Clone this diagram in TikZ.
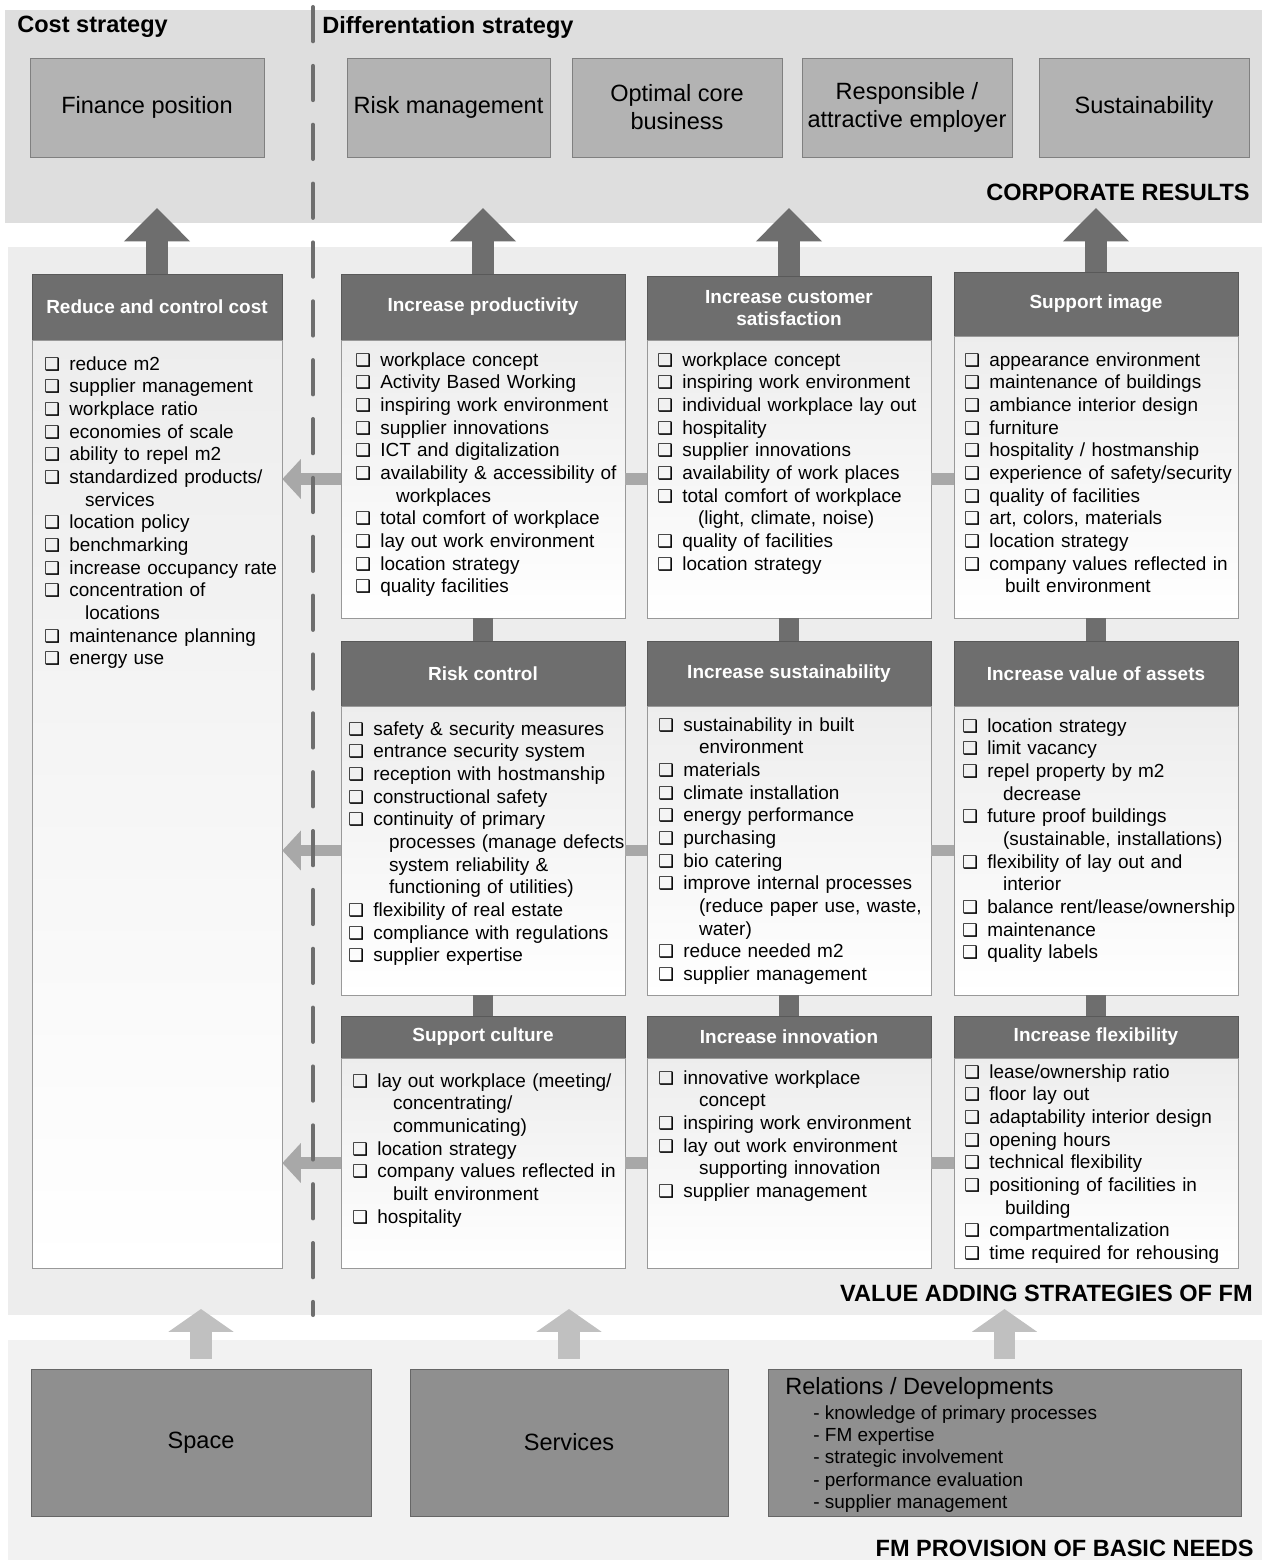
\documentclass[tikz,border=0pt]{standalone}
\usepackage{fontspec}
\setmainfont{Liberation Sans}
\newfontfamily\chkfont{DejaVu Sans}
\usetikzlibrary{arrows.meta}
\definecolor{bandtop}{HTML}{DEDEDE}
\definecolor{bandmid}{HTML}{EDEDED}
\definecolor{bandlow}{HTML}{F2F2F2}
\definecolor{resfill}{HTML}{B3B3B3}
\definecolor{headfill}{HTML}{6E6E6E}
\definecolor{needfill}{HTML}{8F8F8F}
\definecolor{barlight}{HTML}{A8A8A8}
\definecolor{arrlight}{HTML}{C0C0C0}
\setlength{\parskip}{0pt}
\newcommand{\fsbig}{\fontsize{13.4}{15.9}\selectfont}
\newcommand{\fssmall}{\fontsize{10.8}{12.9}\selectfont}
\newcommand{\chk}{{\chkfont\bfseries\fontsize{10}{12.9}\selectfont ❑}}
\newcommand{\itm}[1]{\par\noindent\makebox[14.2pt][l]{\chk}#1}
\newcommand{\cnt}[1]{\par\noindent\hspace*{23.2pt}#1}
\begin{document}
\begin{tikzpicture}[x=0.02cm, y=-0.02cm,
  result/.style={draw=black!50, fill=resfill, font=\fsbig, align=center, inner sep=0, minimum height=1.98cm, minimum width=4.2cm},
  head/.style={draw=black!65, fill=headfill, text=white, font=\fssmall\bfseries, align=center, inner sep=0, minimum width=5.68cm},
  body/.style={draw=black!40, top color=black!7, bottom color=white, inner sep=0, minimum width=5.68cm},
  list/.style={anchor=north west, inner sep=0, text width=6cm, align=left, font=\fssmall},
  need/.style={draw=black!60, fill=needfill, font=\fsbig, inner sep=0, minimum height=2.94cm},
  title/.style={font=\fsbig\bfseries, inner sep=0},
  uparrow/.style={draw=headfill, line width=12.5pt, -{Triangle[width=36.5pt, length=19pt]}},
  needarrow/.style={draw=arrlight, line width=12.5pt, -{Triangle[width=36.5pt, length=13pt]}},
  sidearrow/.style={draw=barlight, line width=6.8pt, -{Triangle[width=22pt, length=10.5pt]}},
  colbar/.style={draw=barlight, line width=6.8pt},
  rowbar/.style={draw=headfill, line width=11.3pt},
  divider/.style={draw=headfill, line width=2.3pt, line cap=round, dash pattern=on 19.5pt off 14pt}]
\useasboundingbox (0,0) rectangle (1265,1560);
\fill[white] (0,0) rectangle (1265,1560);
% bands
\fill[bandtop] (5,10) rectangle (1262,223);
\fill[bandmid] (8,247) rectangle (1262,1315);
\fill[bandlow] (8,1340) rectangle (1262,1560);
\node[title, anchor=west] (coststr) at (17,27) {Cost strategy};
\node[title, anchor=west] (diffstr) at (322,27) {Differentation strategy};
\node[title, anchor=east] (corpres) at (1250,192) {CORPORATE RESULTS};
\node[title, anchor=east] (valadd) at (1253,1293) {VALUE ADDING STRATEGIES OF FM};
\node[title, anchor=east] (basic) at (1254,1548) {FM PROVISION OF BASIC NEEDS};
% corporate results
\node[result, minimum width=4.68cm] (fin) at (147,107.5) {Finance position};
\node[result, minimum width=4.06cm] (riskm) at (448.5,107.5) {Risk management};
\node[result] (core) at (677,107.5) {Optimal core\\business};
\node[result] (empl) at (907,107.5) {Responsible /\\attractive employer};
\node[result] (sust) at (1144,107.5) {Sustainability};
% strategy headers
\node[head, minimum width=5cm, minimum height=1.32cm] (costh) at (157,307) {Reduce and control cost};
\node[head, minimum height=1.32cm] (prodh) at (483,307) {Increase productivity};
\node[head, minimum height=1.28cm] (custh) at (789,308) {Increase customer\\satisfaction};
\node[head, minimum height=1.28cm] (imgh) at (1096,304) {Support image};
\node[head, minimum height=1.3cm] (riskh) at (483,673.5) {Risk control};
\node[head, minimum height=1.3cm] (susth) at (789,673.5) {Increase sustainability};
\node[head, minimum height=1.3cm] (valh) at (1096,673.5) {Increase value of assets};
\node[head, minimum height=0.84cm] (culth) at (483,1037) {Support culture};
\node[head, minimum height=0.84cm] (innh) at (789,1037) {Increase innovation};
\node[head, minimum height=0.84cm] (flexh) at (1096,1037) {Increase flexibility};
% strategy bodies
\node[body, minimum width=5cm, minimum height=18.56cm] (costb) at (157,804) {};
\node[body, minimum height=5.56cm] (prodb) at (483,479) {};
\node[body, minimum height=5.56cm] (custb) at (789,479) {};
\node[body, minimum height=5.64cm] (imgb) at (1096,477) {};
\node[body, minimum height=5.78cm] (riskb) at (483,850.5) {};
\node[body, minimum height=5.78cm] (sustb) at (789,850.5) {};
\node[body, minimum height=5.78cm] (valb) at (1096,850.5) {};
\node[body, minimum height=4.2cm] (cultb) at (483,1163) {};
\node[body, minimum height=4.2cm] (innb) at (789,1163) {};
\node[body, minimum height=4.2cm] (flexb) at (1096,1163) {};
% lists
\node[list] (costl) at (44,347) {\itm{reduce m2}\itm{supplier management}\itm{workplace ratio}\itm{economies of scale}\itm{ability to repel m2}\itm{standardized products/}\cnt{services}\itm{location policy}\itm{benchmarking}\itm{increase occupancy rate}\itm{concentration of}\cnt{locations}\itm{maintenance planning}\itm{energy use}};
\node[list] (prodl) at (355,343) {\itm{workplace concept}\itm{Activity Based Working}\itm{inspiring work environment}\itm{supplier innovations}\itm{ICT and digitalization}\itm{availability \& accessibility of}\cnt{workplaces}\itm{total comfort of workplace}\itm{lay out work environment}\itm{location strategy}\itm{quality facilities}};
\node[list] (custl) at (657,343) {\itm{workplace concept}\itm{inspiring work environment}\itm{individual workplace lay out}\itm{hospitality}\itm{supplier innovations}\itm{availability of work places}\itm{total comfort of workplace}\cnt{(light, climate, noise)}\itm{quality of facilities}\itm{location strategy}};
\node[list] (imgl) at (964,343) {\itm{appearance environment}\itm{maintenance of buildings}\itm{ambiance interior design}\itm{furniture}\itm{hospitality / hostmanship}\itm{experience of safety/security}\itm{quality of facilities}\itm{art, colors, materials}\itm{location strategy}\itm{company values reflected in}\cnt{built environment}};
\node[list] (riskl) at (348,712) {\itm{safety \& security measures}\itm{entrance security system}\itm{reception with hostmanship}\itm{constructional safety}\itm{continuity of primary}\cnt{processes (manage defects}\cnt{system reliability \&}\cnt{functioning of utilities)}\itm{flexibility of real estate}\itm{compliance with regulations}\itm{supplier expertise}};
\node[list] (sustl) at (658,708) {\itm{sustainability in built}\cnt{environment}\itm{materials}\itm{climate installation}\itm{energy performance}\itm{purchasing}\itm{bio catering}\itm{improve internal processes}\cnt{(reduce paper use, waste,}\cnt{water)}\itm{reduce needed m2}\itm{supplier management}};
\node[list] (vall) at (962,709) {\itm{location strategy}\itm{limit vacancy}\itm{repel property by m2}\cnt{decrease}\itm{future proof buildings}\cnt{(sustainable, installations)}\itm{flexibility of lay out and}\cnt{interior}\itm{balance rent/lease/ownership}\itm{maintenance}\itm{quality labels}};
\node[list] (cultl) at (352,1064) {\itm{lay out workplace (meeting/}\cnt{concentrating/}\cnt{communicating)}\itm{location strategy}\itm{company values reflected in}\cnt{built environment}\itm{hospitality}};
\node[list] (innl) at (658,1061) {\itm{innovative workplace}\cnt{concept}\itm{inspiring work environment}\itm{lay out work environment}\cnt{supporting innovation}\itm{supplier management}};
\node[list] (flexl) at (964,1055) {\itm{lease/ownership ratio}\itm{floor lay out}\itm{adaptability interior design}\itm{opening hours}\itm{technical flexibility}\itm{positioning of facilities in}\cnt{building}\itm{compartmentalization}\itm{time required for rehousing}};
% basic needs
\node[need, minimum width=6.8cm] (space) at (201,1442.5) {Space};
\node[need, minimum width=6.36cm] (serv) at (569,1442.5) {Services};
\node[need, minimum width=9.46cm] (rel) at (1004.5,1442.5) {};
\node[anchor=west, inner sep=0, font=\fsbig] (reltitle) at (785,1388) {Relations / Developments};
\node[anchor=north west, inner sep=0, align=left, font=\fontsize{10.8}{12.7}\selectfont] (rellist) at (813,1405) {- knowledge of primary processes\\- FM expertise\\- strategic involvement\\- performance evaluation\\- supplier management};
% connectors
\coordinate (corptip) at (0,208);
\coordinate (valtip) at (0,1309);
\foreach \h in {costh,prodh,custh,imgh}
  \draw[uparrow] (\h.north) -- (\h.north |- corptip);
\foreach \n in {space,serv,rel}
  \draw[needarrow] ([yshift=0.2cm]\n.north) -- (\n.north |- valtip);
\draw[rowbar] (prodb.south) -- (riskh.north);
\draw[rowbar] (custb.south) -- (susth.north);
\draw[rowbar] (imgb.south) -- (valh.north);
\draw[rowbar] (riskb.south) -- (culth.north);
\draw[rowbar] (sustb.south) -- (innh.north);
\draw[rowbar] (valb.south) -- (flexh.north);
\draw[colbar] (prodb.east) -- (custb.west);
\draw[colbar] (custb.east) -- (custb.east -| imgb.west);
\draw[colbar] (riskb.east) -- (sustb.west);
\draw[colbar] (sustb.east) -- (valb.west);
\draw[colbar] (cultb.east) -- (innb.west);
\draw[colbar] (innb.east) -- (flexb.west);
\draw[sidearrow] (prodb.west) -- (costb.east |- prodb.west);
\draw[sidearrow] (riskb.west) -- (costb.east |- riskb.west);
\draw[sidearrow] (cultb.west) -- (costb.east |- cultb.west);
% cost / differentiation divider
\draw[divider] (313,7) -- (313,1315);
\end{tikzpicture}
\end{document}
